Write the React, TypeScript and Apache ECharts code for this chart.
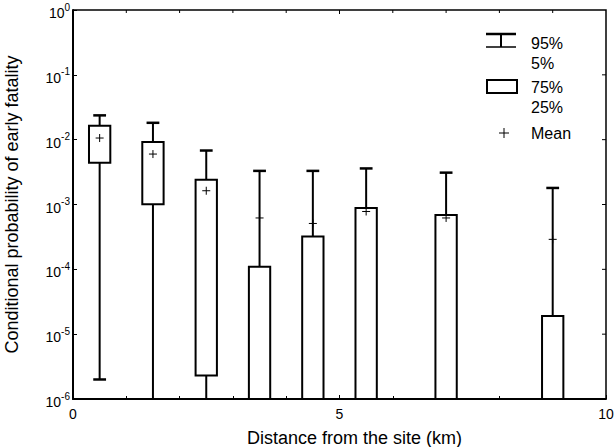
import React, { useEffect, useRef } from "react";
import * as echarts from "echarts";

// Distance from the site (km) of each box
const distances = [0.5, 1.5, 2.5, 3.5, 4.5, 5.5, 7, 9];
// Percentiles of conditional probability of early fatality (1e-6 = at/below axis floor)
const p5 = [2.0e-6, 1e-6, 1e-6, 1e-6, 1e-6, 1e-6, 1e-6, 1e-6];
const p25 = [0.0044, 0.00101, 2.3e-6, 1e-6, 1e-6, 1e-6, 1e-6, 1e-6];
const p75 = [0.0164, 0.0092, 0.0024, 0.00011, 0.00032, 0.00088, 0.00069, 1.9e-5];
const p95 = [0.0237, 0.0182, 0.0068, 0.0033, 0.0033, 0.0036, 0.0031, 0.0018];
const means = [0.0106, 0.006, 0.00163, 0.00062, 0.00051, 0.00078, 0.00062, 0.00029];

const xTicks = [0, 5, 10];
const xMinorTicks = [1, 2, 3, 4, 6, 7, 8, 9];
const yDecades = [1e-6, 1e-5, 1e-4, 1e-3, 1e-2, 1e-1, 1];
const yMin = 1e-6;
const yMax = 1;
const legendLabels = ["95%", "5%", "75%", "25%", "Mean"];

const FONT = "'Liberation Sans', Arial, Helvetica, sans-serif";
const W = 614;
const H = 447;
const G = { left: 73, right: 8, top: 10, bottom: 48 };

export default function App() {
  const ref = useRef<HTMLDivElement>(null);

  useEffect(() => {
    if (!ref.current) return;
    const chart = echarts.init(ref.current, null, { renderer: "svg" });

    const data = distances.map((d, i) => [d, p5[i], p25[i], p75[i], p95[i], means[i]]);

    const yLabel = (v: number) => {
      const e = Math.round(Math.log10(v));
      return `{b|10}{s|${e}}`;
    };

    const legendY = [43, 63, 87, 107, 133];
    const txt = (i: number) => ({
      type: "text",
      x: 531,
      y: legendY[i],
      style: { text: legendLabels[i], fontFamily: FONT, fontSize: 16, fill: "#000", verticalAlign: "middle" },
    });
    const ln = (x1: number, y1: number, x2: number, y2: number, w: number) => ({
      type: "line",
      shape: { x1, y1, x2, y2 },
      style: { stroke: "#000", lineWidth: w },
    });

    const option: any = {
      animation: false,
      backgroundColor: "#ffffff",
      grid: {
        left: G.left,
        right: G.right,
        top: G.top,
        bottom: G.bottom,
        outerBoundsMode: "none",
        containLabel: false,
        show: false,
      },
      xAxis: {
        type: "value",
        min: xTicks[0],
        max: xTicks[xTicks.length - 1],
        interval: 5,
        name: "Distance from the site (km)",
        nameLocation: "middle",
        nameGap: 30,
        nameTextStyle: {
          fontFamily: FONT,
          fontSize: 18,
          color: "#000",
          padding: [0, 0, 0, 30],
        },
        axisLine: { show: true, onZero: false, lineStyle: { color: "#000", width: 2 } },
        axisTick: { show: true, inside: true, length: 4, lineStyle: { color: "#000" } },
        minorTick: { show: true, splitNumber: 5, length: 3, lineStyle: { color: "#000" } },
        splitLine: { show: false },
        axisLabel: { fontFamily: FONT, fontSize: 14, color: "#000", margin: 8, showMinLabel: true, showMaxLabel: true },
      },
      yAxis: {
        type: "log",
        logBase: 10,
        min: yMin,
        max: yMax,
        name: "Conditional probability of early fatality",
        nameLocation: "middle",
        nameGap: 52,
        nameTextStyle: { fontFamily: FONT, fontSize: 18, color: "#000" },
        axisLine: { show: true, onZero: false, lineStyle: { color: "#000", width: 2 } },
        axisTick: { show: true, inside: true, length: 4, lineStyle: { color: "#000" } },
        splitLine: { show: false },
        axisLabel: {
          margin: 3,
          showMinLabel: true,
          showMaxLabel: true,
          formatter: yLabel,
          rich: {
            b: { fontFamily: FONT, fontSize: 14, color: "#000", lineHeight: 18, padding: [6, 0, 0, 0] },
            s: { fontFamily: FONT, fontSize: 10, color: "#000", lineHeight: 18, padding: [0, 0, 6, 0] },
          },
        },
      },
      series: [
        {
          type: "custom",
          clip: false,
          data,
          renderItem: (params: any, api: any) => {
            const x = api.value(0);
            const lo = api.value(1);
            const q1 = api.value(2);
            const q3 = api.value(3);
            const hi = api.value(4);
            const mean = api.value(5);
            const [cx, yHi] = api.coord([x, hi]);
            const yLo = api.coord([x, lo])[1];
            const yQ1 = api.coord([x, q1])[1];
            const yQ3 = api.coord([x, q3])[1];
            const yMean = api.coord([x, mean])[1];
            const half = api.coord([x + 0.2, hi])[0] - cx;
            const capHalf = api.coord([x + 0.12, hi])[0] - cx;
            const ps = 4;
            const children: any[] = [
              ln(cx, yLo, cx, yHi, 2),
              ln(cx - capHalf, yHi, cx + capHalf, yHi, 2.5),
            ];
            if (lo > yMin) {
              children.push(ln(cx - capHalf, yLo, cx + capHalf, yLo, 2.5));
            }
            children.push({
              type: "rect",
              shape: { x: cx - half, y: yQ3, width: 2 * half, height: yQ1 - yQ3 },
              style: { fill: "#fff", stroke: "#000", lineWidth: 2 },
            });
            children.push(ln(cx - ps, yMean, cx + ps, yMean, 1), ln(cx, yMean - ps, cx, yMean + ps, 1));

            if (params.dataIndex === 0) {
              // plot frame: top and right edges with inward ticks
              const [left, top] = api.coord([xTicks[0], yMax]);
              const [right, bottom] = api.coord([xTicks[xTicks.length - 1], yMin]);
              children.push({
                type: "polyline",
                shape: { points: [[left, top], [right, top], [right, bottom]] },
                style: { stroke: "#000", lineWidth: 1.5, fill: null },
              });
              yDecades.slice(1, -1).forEach((v) => {
                const y = api.coord([xTicks[0], v])[1];
                children.push(ln(right - 4, y, right, y, 1));
              });
              [...xTicks.slice(1, -1), ...xMinorTicks].forEach((v) => {
                const xx = api.coord([v, yMax])[0];
                children.push(ln(xx, top, xx, top + (v % 5 === 0 ? 4 : 3), 1));
              });
            }
            return { type: "group", children };
          },
        },
      ],
      graphic: [
        ln(486, 34, 516, 34, 2.5),
        ln(501, 34, 501, 47, 2),
        ln(486, 47, 516, 47, 1.5),
        { type: "rect", shape: { x: 487, y: 80, width: 30, height: 13 }, style: { fill: "#fff", stroke: "#000", lineWidth: 2 } },
        ln(499, 133, 509, 133, 1),
        ln(504, 128, 504, 138, 1),
        txt(0),
        txt(1),
        txt(2),
        txt(3),
        txt(4),
      ],
    };

    chart.setOption(option);
    return () => chart.dispose();
  }, []);

  return (
    <div
      ref={ref}
      style={{ position: "absolute", left: 0, top: 0, width: W, height: H, background: "#fff" }}
    />
  );
}
